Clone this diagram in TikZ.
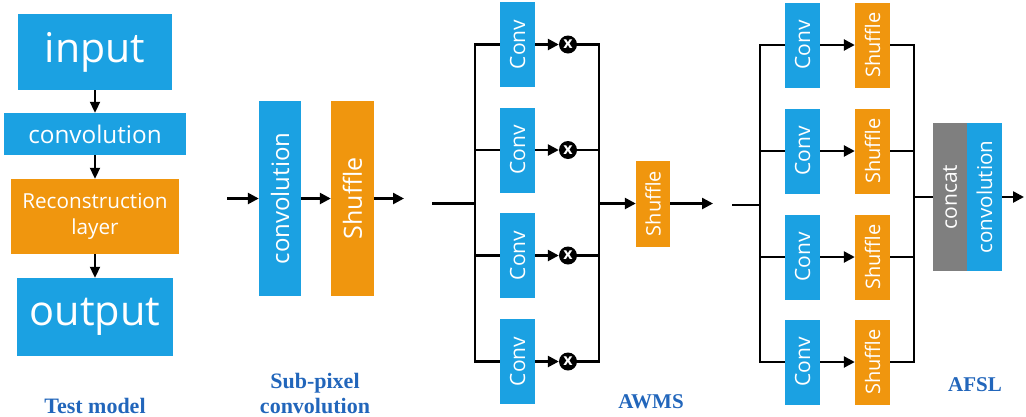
\documentclass[tikz,border=0pt]{standalone}
\usepackage{fontspec}
\usepackage{graphicx}
\setmainfont{Open Sans}
\newfontfamily\capfont{Liberation Serif}
\usetikzlibrary{arrows.meta}
\definecolor{mblue}{HTML}{1BA1E2}
\definecolor{morange}{HTML}{F0960E}
\definecolor{mgray}{HTML}{7F7F7F}
\definecolor{lblue}{HTML}{2266BB}
\tikzset{
  box/.style={draw=none, inner sep=0pt, text=white, align=center},
  bluebox/.style={box, fill=mblue},
  orangebox/.style={box, fill=morange},
  graybox/.style={box, fill=mgray},
  wire/.style={line width=2.5pt, line join=miter},
  arr/.style={wire, -{Triangle[length=11pt,width=11pt]}},
  thinarr/.style={line width=2pt, -{Triangle[length=11pt,width=10pt]}},
  mult/.style={circle, fill=black, minimum size=18pt, inner sep=0pt, text=white, font=\bfseries\fontsize{16}{16}\selectfont},
  captext/.style={text=lblue, font=\capfont\bfseries\fontsize{22}{25}\selectfont, anchor=base, align=center},
}
\newcommand{\fs}[1]{\fontsize{#1}{#1}\selectfont}
\newcommand{\vt}[1]{\rotatebox{90}{#1}}
\begin{document}
\begin{tikzpicture}[x=1pt,y=-1pt]
\useasboundingbox (0,0) rectangle (1026,416);

% ---------- Test model ----------
\node[bluebox, minimum width=154pt, minimum height=76pt, font=\fs{41}] (tin) at (95,52) {input};
\node[bluebox, minimum width=182pt, minimum height=42pt, font=\fs{24.3}] (tcv) at (95,134) {convolution};
\node[orangebox, minimum width=168pt, minimum height=75pt, font=\fs{20.7}, align=center] (trec) at (95,216.5) {\raisebox{-3pt}{Reconstruction}\\[6pt]\raisebox{-3pt}{layer}};
\node[bluebox, minimum width=156pt, minimum height=78pt, font=\fs{41.5}] (tout) at (95,317) {output};
\draw[thinarr] (tin) -- (tcv);
\draw[thinarr] (tcv) -- (trec);
\draw[thinarr] (trec) -- (tout);
\node[captext] (ltest) at (95,413) {Test model};

% ---------- Sub-pixel convolution ----------
\node[bluebox, minimum width=42pt, minimum height=195pt, font=\fs{24}] (spc) at (280,198.5) {\vt{convolution}};
\node[orangebox, minimum width=43pt, minimum height=195pt, font=\fs{25}] (sps) at (352.5,198.5) {\vt{Shuffle}};
\coordinate (sin) at (227,198.5);
\coordinate (sout) at (404,198.5);
\draw[arr] (sin) -- (spc);
\draw[arr] (spc) -- (sps);
\draw[arr] (sps) -- (sout);
\node[captext] (lsub) at (315,388) {Sub-pixel};
\node[captext] (lsub2) at (315,413) {convolution};

% ---------- AWMS ----------
\foreach \i/\y in {1/44.5,2/150,3/255.5,4/361.5}{
  \node[bluebox, minimum width=35pt, minimum height=85pt, font=\fs{21}] (a\i) at (517.5,\y) {\vt{Conv}};
  \node[mult] (ax\i) at (568,\y) {x};
}
\coordinate (ain) at (432,203.5);
\coordinate (aL) at (475,203.5);
\coordinate (aR) at (599,203.5);
\node[orangebox, minimum width=34pt, minimum height=86pt, font=\fs{20}] (ash) at (653,203.5) {\vt{Shuffle}};
\coordinate (aout) at (713,203.5);
\draw[wire] (ain) -- (aL);
\draw[wire] (a1.west) -- (aL |- a1) -- (aL |- a4) -- (a4.west);
\draw[wire] (aL |- a2) -- (a2.west);
\draw[wire] (aL |- a3) -- (a3.west);
\foreach \i in {1,2,3,4}{
  \draw[arr] (a\i.east) -- (ax\i);
}
\draw[wire] (ax1) -- (aR |- ax1) -- (aR |- ax4) -- (ax4);
\draw[wire] (ax2) -- (aR |- ax2);
\draw[wire] (ax3) -- (aR |- ax3);
\draw[arr] (aR) -- (ash);
\draw[arr] (ash) -- (aout);
\node[captext, font=\capfont\bfseries\fs{21}] (lawms) at (651,408) {AWMS};

% ---------- AFSL ----------
\foreach \i/\y in {1/45,2/151,3/257,4/362}{
  \node[bluebox, minimum width=35pt, minimum height=85pt, font=\fs{21}] (f\i) at (802.5,\y) {\vt{Conv}};
  \node[orangebox, minimum width=35pt, minimum height=85pt, font=\fs{20}] (fs\i) at (872.5,\y) {\vt{Shuffle}};
}
\coordinate (fin) at (732,205);
\coordinate (fL) at (760,205);
\coordinate (fR) at (914,197);
\node[graybox, minimum width=34pt, minimum height=148pt, font=\fs{21}] (fcat) at (950,197) {\vt{concat}};
\node[bluebox, minimum width=35pt, minimum height=148pt, font=\fs{20.5}] (fcv) at (984.5,197) {\vt{convolution}};
\coordinate (fout) at (1024,197);
\draw[wire] (fin) -- (fL);
\draw[wire] (f1.west) -- (fL |- f1) -- (fL |- f4) -- (f4.west);
\draw[wire] (fL |- f2) -- (f2.west);
\draw[wire] (fL |- f3) -- (f3.west);
\foreach \i in {1,2,3,4}{
  \draw[arr] (f\i.east) -- (fs\i);
}
\draw[wire] (fs1.east) -- (fR |- fs1) -- (fR |- fs4) -- (fs4.east);
\draw[wire] (fs2.east) -- (fR |- fs2);
\draw[wire] (fs3.east) -- (fR |- fs3);
\draw[wire] (fR) -- (fcat);
\draw[arr] (fcv) -- (fout);
\node[captext, font=\capfont\bfseries\fs{21}] (lafsl) at (975,391) {AFSL};
\end{tikzpicture}
\end{document}
